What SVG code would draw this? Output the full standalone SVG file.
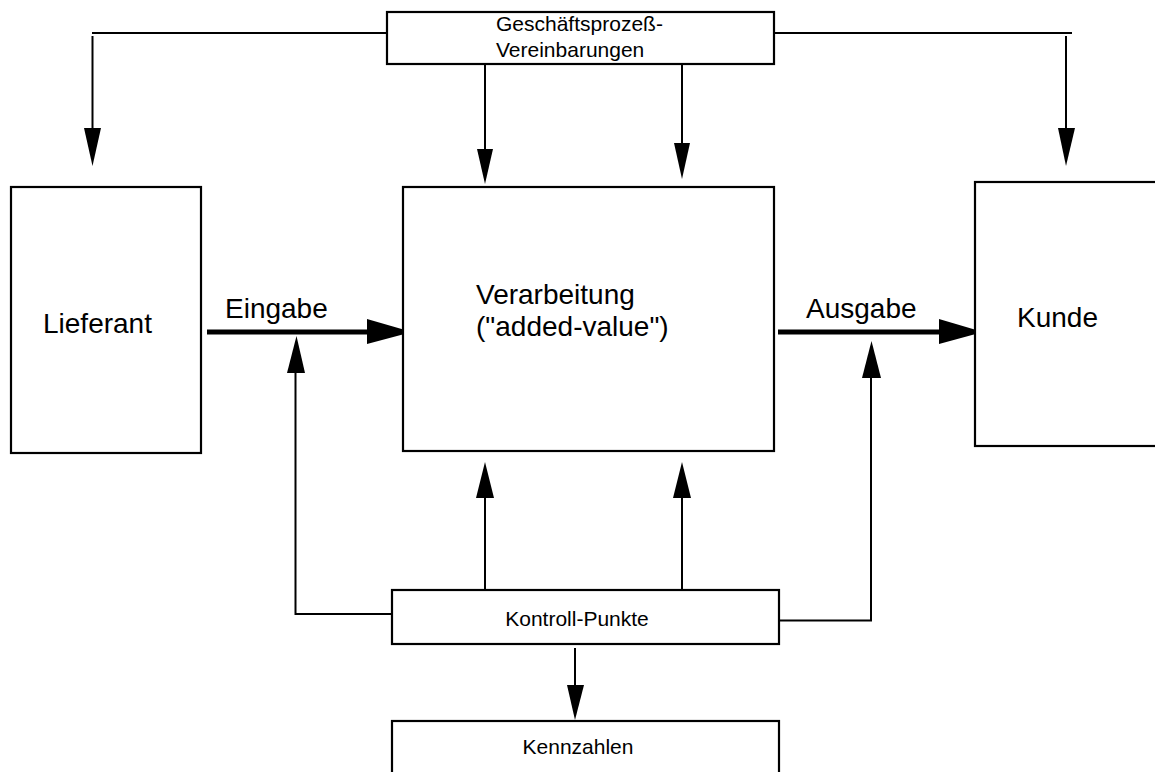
<svg xmlns="http://www.w3.org/2000/svg" width="1155" height="772" viewBox="0 0 1155 772">
<style>
.box{fill:#fff;stroke:#000;stroke-width:2.2}
.ln{fill:none;stroke:#000;stroke-width:2}
.thick{fill:none;stroke:#000;stroke-width:5}
.hd{fill:#000;stroke:none}
.big{font-family:"Liberation Sans",Arial,sans-serif;font-size:28px;fill:#000}
.sm{font-family:"Liberation Sans",Arial,sans-serif;font-size:21px;fill:#000}
</style>
<rect width="1155" height="772" fill="#fff"/>
<g id="connectors">
<polyline class="ln" points="387,33 92,33"/>
<line class="ln" x1="92.5" y1="36" x2="92.5" y2="130"/>
<polygon class="hd" points="84,128 101,128 92.5,166"/>
<polyline class="ln" points="774,33 1072,33"/>
<line class="ln" x1="1066" y1="36" x2="1066" y2="130"/>
<polygon class="hd" points="1058,128 1075,128 1066,166"/>
<line class="ln" x1="485" y1="56" x2="485" y2="151"/>
<polygon class="hd" points="477,149 493,149 485,184"/>
<line class="ln" x1="682" y1="52" x2="682" y2="145"/>
<polygon class="hd" points="674,143 690,143 682,179"/>
<line class="thick" x1="207" y1="332" x2="370" y2="332"/>
<polygon class="hd" points="367,319 367,344 412,332"/>
<line class="thick" x1="778" y1="332" x2="942" y2="332"/>
<polygon class="hd" points="939,319 939,344 983,332"/>
<polyline class="ln" points="392,614 295.5,614 295.5,371"/>
<polygon class="hd" points="287,373 305,373 296.5,336"/>
<polyline class="ln" points="773,620.5 871,620.5 871,376"/>
<polygon class="hd" points="862,378 881,378 871.5,341"/>
<line class="ln" x1="485" y1="590" x2="485" y2="495"/>
<polygon class="hd" points="476,498 494,498 485,462"/>
<line class="ln" x1="682" y1="590" x2="682" y2="495"/>
<polygon class="hd" points="673,498 691,498 682,462"/>
<line class="ln" x1="575" y1="648" x2="575" y2="688"/>
<polygon class="hd" points="567,685 584,685 575,720"/>
</g>
<g id="geschaeftsprozess">
<rect class="box" x="387" y="12" width="387" height="52"/>
<text class="sm" x="496" y="31">Geschäftsprozeß-</text>
<text class="sm" x="496" y="57">Vereinbarungen</text>
</g>
<g id="lieferant">
<rect class="box" x="11" y="187" width="190" height="266"/>
<text class="big" x="43" y="333">Lieferant</text>
</g>
<g id="verarbeitung">
<rect class="box" x="403" y="187" width="371" height="264"/>
<text class="big" x="476" y="304">Verarbeitung</text>
<text class="big" x="476" y="336">("added-value")</text>
</g>
<g id="kunde">
<rect class="box" x="975" y="182" width="200" height="264"/>
<text class="big" x="1017" y="327">Kunde</text>
</g>
<g id="labels">
<text class="big" x="225" y="318">Eingabe</text>
<text class="big" x="806" y="318">Ausgabe</text>
</g>
<g id="kontroll">
<rect class="box" x="392" y="590" width="387" height="54"/>
<text class="sm" x="577" y="626" text-anchor="middle">Kontroll-Punkte</text>
</g>
<g id="kennzahlen">
<rect class="box" x="392" y="721" width="387" height="80"/>
<text class="sm" x="578" y="754" text-anchor="middle">Kennzahlen</text>
</g>
</svg>
